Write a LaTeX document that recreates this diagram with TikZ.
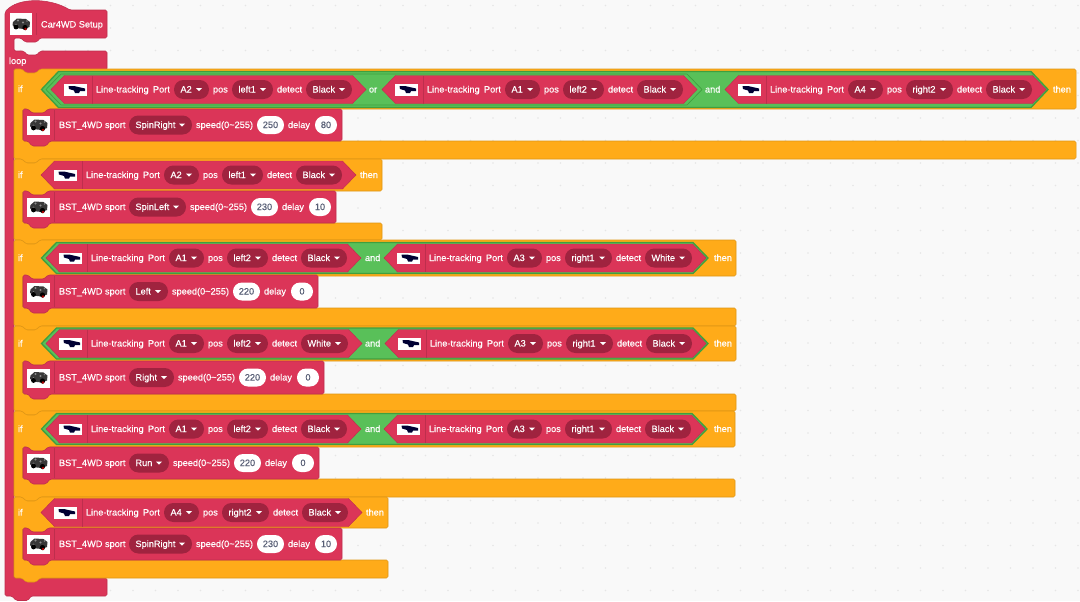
\documentclass[tikz,border=0pt]{standalone}
\usepackage{fontspec}
\setmainfont[FakeBold=0.25]{Liberation Sans}
\definecolor{bgc}{HTML}{F9F9F9}
\definecolor{dotc}{HTML}{E6E6E6}
\definecolor{redb}{HTML}{DB3558}
\definecolor{redl}{HTML}{BE2E4D}
\definecolor{redd}{HTML}{A0233F}
\definecolor{orb}{HTML}{FFAB19}
\definecolor{orl}{HTML}{DF9616}
\definecolor{grb}{HTML}{59C059}
\definecolor{grl}{HTML}{3F9F3F}
\definecolor{numc}{HTML}{575E75}
\newcount\tcnt
\tikzset{
  lbl/.style={anchor=base west,inner sep=0pt,outer sep=0pt,text=white,font=\fontsize{6.9}{8}\selectfont\addfontfeature{FakeBold=0.25}},
  numlbl/.style={anchor=base,inner sep=0pt,outer sep=0pt,text=numc,font=\fontsize{6.9}{8}\selectfont},
  redblock/.style={fill=redb,draw=redl,line width=0.4pt,rounded corners=1.2pt},
  orblock/.style={fill=orb,draw=orl,line width=0.4pt,rounded corners=1.2pt},
  andhex/.style={fill=grb,draw=grl,line width=1pt},
  orhex/.style={fill=grb,draw=grl,line width=0.5pt},
  redhex/.style={fill=redb,draw=redl,line width=0.3pt},
  ddpill/.style={fill=redd,rounded corners=7pt},
  numpill/.style={fill=white,rounded corners=6.7pt},
  sepline/.style={draw=redl,line width=0.5pt}
}
\newcommand\lbltxt[3]{\global\advance\tcnt by 1
  \node[lbl] (t\the\tcnt) at ({#1},{(#2)+3}) {#3};}
\newcommand\nump[4]{% x, yc, w, text
  \global\advance\tcnt by 1
  \fill[numpill] ({#1},{(#2)-9}) rectangle ({#1+#3},{(#2)+9});
  \node[numlbl] (n\the\tcnt) at ({#1+#3/2},{(#2)+3}) {#4};}
\newcommand\ddp[4]{% x, yc, w, text
  \fill[ddpill] ({#1},{(#2)-9.5}) rectangle ({#1+#3},{(#2)+9.5});
  \lbltxt{#1+6.5}{#2}{#4}
  \fill[white] ({#1+#3-13},{(#2)-1.5}) -- ({#1+#3-7},{(#2)-1.5}) -- ({#1+#3-10},{(#2)+1.5}) -- cycle;}
\newcommand\hexshape[6]{% style,xl,xr,yc,hh,slope
  \path[#1] ({#2},{#4}) -- ({#2+#6},{(#4)-(#5)}) -- ({#3-#6},{(#4)-(#5)}) -- ({#3},{#4}) -- ({#3-#6},{(#4)+(#5)}) -- ({#2+#6},{(#4)+(#5)}) -- cycle;}
\newcommand\senicon[2]{% x of box, yc
  \fill[white] ({#1},{(#2)-5.5}) rectangle ({#1+23},{(#2)+6});
  \fill[black!80!blue] ({#1+4.5},{(#2)-3.5}) -- ({#1+10},{(#2)-3.5}) -- ({#1+21},{(#2)-1}) -- ({#1+21},{(#2)+1.5}) -- ({#1+16},{(#2)+1.5}) -- ({#1+15},{(#2)+3.5}) -- ({#1+11},{(#2)+3.5}) -- ({#1+10},{(#2)+1}) -- ({#1+5},{(#2)-0.5}) -- cycle;}
\newcommand\sensor[7]{% x0, yc, port, pos, det, w2, w3
  \pgfmathsetmacro\sAe{#1+181+#6}
  \pgfmathsetmacro\sDb{\sAe+33}
  \pgfmathsetmacro\sTip{\sDb+#7+14}
  \hexshape{redhex}{#1}{\sTip}{#2}{14}{13.5}
  \senicon{#1+13}{#2}
  \draw[sepline] ({#1+41},{(#2)-14}) -- ({#1+41},{(#2)+14});
  \lbltxt{#1+45}{#2}{Line-tracking}
  \lbltxt{#1+102}{#2}{Port}
  \ddp{#1+123}{#2}{35}{#3}
  \lbltxt{#1+162}{#2}{pos}
  \ddp{#1+181}{#2}{#6}{#4}
  \lbltxt{\sAe+4}{#2}{detect}
  \ddp{\sDb}{#2}{#7}{#5}}
\newcommand\caricon[2]{% cx, cy
  \fill[black!78] ({#1-8},{(#2)-2}) -- ({#1-4},{(#2)-5.5}) -- ({#1+5},{(#2)-5}) -- ({#1+9},{(#2)-2}) -- ({#1+8.5},{(#2)+3}) -- ({#1+3},{(#2)+5}) -- ({#1-6},{(#2)+4}) -- ({#1-8.5},{(#2)+1}) -- cycle;
  \fill[black!45] ({#1-3},{(#2)-3.5}) circle (1.1);
  \fill[black!45] ({#1+2},{(#2)-1.5}) circle (1.1);
  \fill[black!50] ({#1+6},{(#2)-3}) circle (0.9);
  \fill[black!45] ({#1-5},{(#2)+0.5}) circle (0.9);
  \fill[black] ({#1-5},{(#2)+3}) circle (2.4);
  \fill[black] ({#1+4},{(#2)+3.5}) circle (2.6);
  \fill[red!70!black] ({#1+4.5},{(#2)+5}) circle (1.4);}
\newcommand\stmt[6]{% top,bottom,pillw,pilltext,n1,n2
  \pgfmathsetmacro\mY{(#1+#2)/2}
  \pgfmathsetmacro\mE{129+#3}
  \pgfmathsetmacro\mR{\mE+65+27+31+22+5}
  \draw[redblock] (23,#1) -- (28,#1) -- (32,{#1+4}) -- (44,{#1+4}) -- (48,#1) -- (\mR,#1) -- (\mR,#2) -- (50,#2) -- (46,{#2+5}) -- (32,{#2+5}) -- (28,#2) -- (23,#2) -- cycle;
  \fill[white] (27,{\mY-9}) rectangle (50,{\mY+10});
  \caricon{38.5}{\mY}
  \draw[sepline] (54.5,{#1+1}) -- (54.5,{#2-1});
  \lbltxt{59}{\mY}{BST\_4WD sport}
  \ddp{129}{\mY}{#3}{#4}
  \lbltxt{\mE+4}{\mY}{speed(0\textasciitilde255)}
  \nump{\mE+65}{\mY}{27}{#5}
  \lbltxt{\mE+96}{\mY}{delay}
  \nump{\mE+123}{\mY}{22}{#6}}
\newcommand\ifblock[6]{% top,headbottom,stmtbottom,footbottom,right,yc
  \draw[orblock] (14,#1) -- (22,#1) -- (26,{#1+4}) -- (36,{#1+4}) -- (40,#1) -- (#5,#1) -- (#5,#2) -- (48,#2) -- (44,{#2+4}) -- (32,{#2+4}) -- (28,#2) -- (22.5,#2) -- (22.5,#3) -- (#5,#3) -- (#5,#4) -- (40,#4) -- (36,{#4+4}) -- (26,{#4+4}) -- (22,#4) -- (14,#4) -- cycle;
  \lbltxt{18}{#6}{if}}
\begin{document}
\begin{tikzpicture}[x=0.75pt,y=-0.75pt]
\useasboundingbox (0,0) rectangle (1080,601);
\fill[bgc] (0,0) rectangle (1080,601);
\foreach \i in {0,...,47}{\foreach \j in {0,...,26}{
  \fill[dotc] ({20.5+22.5*\i},{5.5+22.5*\j}) circle (0.8);}}
% outer red C-block
\draw[redblock] (5,12) .. controls (18,-3) and (50,-2) .. (70,10) -- (107,10) -- (107,38) -- (40,38) -- (37,42) -- (25,42) -- (21,38) -- (14,38) -- (14,51) -- (24,51) -- (27,55) -- (37,55) -- (40,51) -- (107,51) -- (107,70) -- (40,70) -- (36,74) -- (26,74) -- (22,70) -- (14,70) -- (14,578) -- (107,578) -- (107,596) -- (31,596) -- (28,600.5) -- (16,600.5) -- (12,596) -- (5,596) -- cycle;
\fill[white] (10,13) rectangle (32,35);
\caricon{21}{24}
\draw[sepline] (36.5,13) -- (36.5,35);
\lbltxt{41}{24.5}{Car4WD Setup}
\lbltxt{9}{61}{loop}
% if 1
\ifblock{69}{109}{141}{159}{1076}{89}
\hexshape{andhex}{41.5}{1048}{89.5}{18}{17}
\hexshape{orhex}{46}{702}{89.5}{15.5}{15}
\sensor{51}{89.5}{A2}{left1}{Black}{41}{46}
\lbltxt{369}{89.5}{or}
\sensor{382}{89.5}{A1}{left2}{Black}{41}{46}
\lbltxt{705}{89.5}{and}
\sensor{725}{89.5}{A4}{right2}{Black}{47}{46}
\lbltxt{1053}{89.5}{then}
\stmt{109}{141}{63}{SpinRight}{250}{80}
% if 2
\ifblock{159}{191}{223}{240}{382}{175}
\sensor{41}{175}{A2}{left1}{Black}{41}{46}
\lbltxt{360}{175}{then}
\stmt{191}{223}{57}{SpinLeft}{230}{10}
% if 3
\ifblock{240}{276}{308}{326}{736}{258}
\hexshape{andhex}{41.5}{708}{258}{15.5}{15}
\sensor{46}{258}{A1}{left2}{Black}{41}{46}
\lbltxt{365}{258}{and}
\sensor{384}{258}{A3}{right1}{White}{47}{47}
\lbltxt{714}{258}{then}
\stmt{275}{308}{39}{Left}{220}{0}
% if 4
\ifblock{326}{361}{394}{411}{736}{343.5}
\hexshape{andhex}{41.5}{708}{343.5}{15.5}{15}
\sensor{46}{343.5}{A1}{left2}{White}{41}{47}
\lbltxt{365}{343.5}{and}
\sensor{385}{343.5}{A3}{right1}{Black}{47}{46}
\lbltxt{714}{343.5}{then}
\stmt{361}{394}{45}{Right}{220}{0}
% if 5
\ifblock{411}{447}{479}{497}{735}{429}
\hexshape{andhex}{41.5}{707}{429}{15.5}{15}
\sensor{46}{429}{A1}{left2}{Black}{41}{46}
\lbltxt{365}{429}{and}
\sensor{384}{429}{A3}{right1}{Black}{47}{46}
\lbltxt{714}{429}{then}
\stmt{447}{479}{40}{Run}{220}{0}
% if 6
\ifblock{497}{528}{560}{578}{388}{512.5}
\sensor{41}{512.5}{A4}{right2}{Black}{47}{46}
\lbltxt{366}{512.5}{then}
\stmt{528}{560}{63}{SpinRight}{230}{10}
\end{tikzpicture}
\end{document}
